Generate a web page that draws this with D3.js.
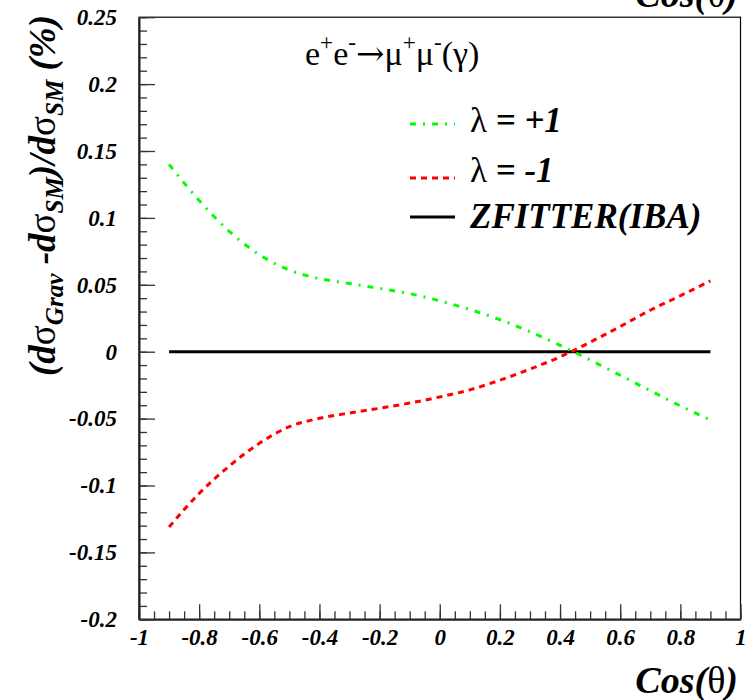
<!DOCTYPE html>
<html>
<head>
<meta charset="utf-8">
<script src="https://cdn.jsdelivr.net/npm/d3@7"></script>
<style>
  body { margin: 0; background: #fff; }
  svg { display: block; }
</style>
</head>
<body>
<script>
// Relative deviation of the graviton-exchange cross section from the SM, vs cos(theta)
const cosTheta = [-0.9, -0.8, -0.7, -0.6, -0.5, -0.4, -0.3, -0.2, -0.1, 0.0,
                  0.1, 0.2, 0.3, 0.4, 0.5, 0.6, 0.7, 0.8, 0.9];
const lambdaPlus = [0.140, 0.113, 0.090, 0.0725, 0.061, 0.0546, 0.051, 0.0473, 0.0434, 0.038,
                    0.0315, 0.024, 0.015, 0.0048, -0.0062, -0.0176, -0.0291, -0.0405, -0.051];
const lambdaMinus = [-0.131, -0.106, -0.0855, -0.0685, -0.056, -0.0498, -0.0458, -0.0423, -0.0384, -0.0338,
                     -0.0285, -0.0213, -0.013, -0.0039, 0.0071, 0.0188, 0.031, 0.0418, 0.053];
const zfitterIBA = [0, 0, 0, 0, 0, 0, 0, 0, 0, 0, 0, 0, 0, 0, 0, 0, 0, 0, 0];

const xTickValues = [-1, -0.8, -0.6, -0.4, -0.2, 0, 0.2, 0.4, 0.6, 0.8, 1];
const xTickLabels = ["-1", "-0.8", "-0.6", "-0.4", "-0.2", "0", "0.2", "0.4", "0.6", "0.8", "1"];
const yTickValues = [-0.2, -0.15, -0.1, -0.05, 0, 0.05, 0.1, 0.15, 0.2, 0.25];
const yTickLabels = ["-0.2", "-0.15", "-0.1", "-0.05", "0", "0.05", "0.1", "0.15", "0.2", "0.25"];

const W = 747, H = 700;
const plotL = 139, plotR = 740.5, plotT = 17.2, plotB = 619.3;
const serif = "Times New Roman";
const arrowFont = "DejaVu Serif";
const tickFont = 23;

const svg = d3.select("body").append("svg").attr("width", W).attr("height", H);

const x = d3.scaleLinear().domain([-1, 1]).range([plotL, plotR]);
const y = d3.scaleLinear().domain([-0.2, 0.25]).range([plotB, plotT]);

// Frame
svg.append("rect")
  .attr("x", plotL).attr("y", plotT)
  .attr("width", plotR - plotL).attr("height", plotB - plotT)
  .attr("fill", "none").attr("stroke", "#000").attr("stroke-width", 1.2);

// Minor ticks
const xMinor = d3.range(-1, 1.0001, 0.05).map(v => +v.toFixed(2));
const yMinor = d3.range(-0.2, 0.2501, 0.01).map(v => +v.toFixed(2));

svg.append("g").attr("transform", `translate(0,${plotB})`)
  .call(d3.axisBottom(x).tickValues(xMinor).tickSize(-8).tickSizeOuter(0).tickFormat(""))
  .call(g => g.select(".domain").remove())
  .selectAll("line").attr("stroke", "#333").attr("stroke-width", 1.3);

svg.append("g").attr("transform", `translate(${plotL},0)`)
  .call(d3.axisLeft(y).tickValues(yMinor).tickSize(-8).tickSizeOuter(0).tickFormat(""))
  .call(g => g.select(".domain").remove())
  .selectAll("line").attr("stroke", "#333").attr("stroke-width", 1.3);

// Major ticks and labels
const xAxis = svg.append("g").attr("transform", `translate(0,${plotB})`)
  .call(d3.axisBottom(x).tickValues(xTickValues).tickSize(-15).tickSizeOuter(0)
        .tickFormat((d, i) => xTickLabels[i]));
xAxis.select(".domain").attr("stroke", "#222").attr("stroke-width", 2);
xAxis.selectAll("line").attr("stroke", "#333").attr("stroke-width", 1.3);
xAxis.selectAll("text")
  .attr("y", 26).attr("dy", 0)
  .attr("font-size", tickFont)
  .attr("font-weight", "bold").attr("font-style", "italic").attr("fill", "#000");

const yAxis = svg.append("g").attr("transform", `translate(${plotL},0)`)
  .call(d3.axisLeft(y).tickValues(yTickValues).tickSize(-16).tickSizeOuter(0).tickPadding(22)
        .tickFormat((d, i) => yTickLabels[i]));
yAxis.select(".domain").attr("stroke", "#222").attr("stroke-width", 2);
yAxis.selectAll("line").attr("stroke", "#333").attr("stroke-width", 1.3);
yAxis.selectAll("text")
  .attr("font-size", tickFont)
  .attr("font-weight", "bold").attr("font-style", "italic").attr("fill", "#000");

// Rich text helper: segments of {t, greek, plain, sub, sup, font}
function richText(sel, segs, size) {
  let shift = 0;
  segs.forEach(s => {
    const target = s.sub ? size * 0.22 : s.sup ? -size * 0.45 : 0;
    const fs = (s.sub || s.sup) ? size * (s.scale || 0.68) : size * (s.rel || 1);
    sel.append("tspan")
      .attr("dy", target - shift)
      .attr("font-size", fs)
      .attr("font-weight", s.greek || s.plain ? "normal" : "bold")
      .attr("font-style", s.greek || s.plain ? "normal" : "italic")
      .attr("data-font", s.font || null)
      .text(s.t);
    shift = target;
  });
  return sel;
}

// Curves
const line = d3.line()
  .x((d, i) => x(cosTheta[i]))
  .y(d => y(d))
  .curve(d3.curveMonotoneX);

svg.append("path").datum(zfitterIBA)
  .attr("d", line).attr("fill", "none")
  .attr("stroke", "#000").attr("stroke-width", 3);

svg.append("path").datum(lambdaPlus)
  .attr("d", line).attr("fill", "none")
  .attr("stroke", "#00ff00").attr("stroke-width", 3)
  .attr("stroke-dasharray", "6,7,2,7");

svg.append("path").datum(lambdaMinus)
  .attr("d", line).attr("fill", "none")
  .attr("stroke", "#ff0000").attr("stroke-width", 3)
  .attr("stroke-dasharray", "6,5");

// Process label
richText(svg.append("text").attr("x", 305).attr("y", 65).attr("fill", "#000"),
  [{t: "e", plain: true}, {t: "+", plain: true, sup: true},
   {t: "e", plain: true}, {t: "-", plain: true, sup: true},
   {t: "\u2192", plain: true, font: arrowFont},
   {t: "\u03bc", plain: true}, {t: "+", plain: true, sup: true},
   {t: "\u03bc", plain: true}, {t: "-", plain: true, sup: true},
   {t: "(\u03b3)", plain: true}], 34);

// Legend
const legend = [
  {y: 124, ty: 132, color: "#00ff00", dash: "6,7,2,7",
   segs: [{t: "\u03bb", greek: true}, {t: " = +1"}]},
  {y: 178, ty: 182, color: "#ff0000", dash: "6,5",
   segs: [{t: "\u03bb", greek: true}, {t: " = -1"}]},
  {y: 217, ty: 228, color: "#000", dash: null,
   segs: [{t: "ZFITTER(IBA)"}]}
];
legend.forEach(l => {
  svg.append("line")
    .attr("x1", 410).attr("x2", 455).attr("y1", l.y).attr("y2", l.y)
    .attr("stroke", l.color).attr("stroke-width", 3)
    .attr("stroke-dasharray", l.dash);
  richText(svg.append("text").attr("x", 470).attr("y", l.ty).attr("fill", "#000"), l.segs, 35);
});

// Axis titles (the upper copy sits mostly above the page edge)
const xTitleSegs = [{t: "Cos("}, {t: "\u03b8", greek: true}, {t: ")"}];
richText(svg.append("text").attr("x", 738).attr("y", 693)
  .attr("text-anchor", "end").attr("fill", "#000"), xTitleSegs, 38);
richText(svg.append("text").attr("x", 738).attr("y", 7)
  .attr("text-anchor", "end").attr("fill", "#000"), xTitleSegs, 38);

richText(svg.append("text")
  .attr("transform", "translate(55,15) rotate(-90)")
  .attr("text-anchor", "end").attr("fill", "#000"),
  [{t: "(d"}, {t: "\u03c3", greek: true}, {t: "Grav", sub: true},
   {t: " -d"}, {t: "\u03c3", greek: true}, {t: "SM", sub: true},
   {t: ")/d"}, {t: "\u03c3", greek: true}, {t: "SM", sub: true},
   {t: " (%)"}], 37);

// One serif face for every label, set directly on each text run
svg.selectAll("text, tspan").each(function () {
  const el = d3.select(this);
  const fam = el.attr("data-font") || serif;
  el.attr("font-family", fam).style("font-family", `"${fam}"`);
});
</script>
</body>
</html>
